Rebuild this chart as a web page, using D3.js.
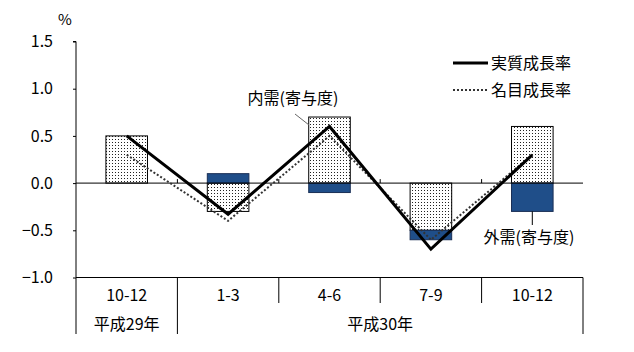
<!DOCTYPE html>
<html>
<head>
<meta charset="utf-8">
<script src="https://cdn.jsdelivr.net/npm/d3@7"></script>
<style>
  body { margin: 0; background: #fff; }
  text { font-family: "Noto Sans CJK JP", "DejaVu Sans", sans-serif; fill: #000; }
</style>
</head>
<body>
<div id="chart"></div>
<script>
// data
const quarters = ["10-12", "1-3", "4-6", "7-9", "10-12"];
const domestic = [0.5, -0.3, 0.7, -0.5, 0.6];   // 内需(寄与度)
const external = [0.0, 0.1, -0.1, -0.1, -0.3];  // 外需(寄与度)
const realGrowth = [0.5, -0.33, 0.6, -0.7, 0.3]; // 実質成長率
const nominalGrowth = [0.3, -0.4, 0.5, -0.6, 0.3]; // 名目成長率
const yTicks = [1.5, 1.0, 0.5, 0.0, -0.5, -1.0];
const years = [
  { label: "平成29年", from: 0, to: 0 },
  { label: "平成30年", from: 1, to: 4 },
];

const width = 634, height = 352;
const margin = { top: 41.5, left: 76, right: 51, bottom: 74.5 };

const svg = d3
  .select("#chart")
  .append("svg")
  .attr("width", width)
  .attr("height", height);

const defs = svg.append("defs");
const pat = defs
  .append("pattern")
  .attr("id", "dots")
  .attr("patternUnits", "userSpaceOnUse")
  .attr("width", 3)
  .attr("height", 3);
pat.append("rect").attr("width", 3).attr("height", 3).attr("fill", "#fff");
pat.append("rect").attr("x", 1).attr("y", 1).attr("width", 1).attr("height", 1).attr("fill", "#222");

const x = d3
  .scaleBand()
  .domain(d3.range(quarters.length))
  .range([margin.left, width - margin.right])
  .paddingInner(0);

const y = d3
  .scaleLinear()
  .domain([-1.0, 1.5])
  .range([height - margin.bottom, margin.top]);

const barW = x.bandwidth() * 0.41;
const cx = (i) => x(i) + x.bandwidth() / 2;

// y axis
const yAxis = svg
  .append("g")
  .attr("transform", `translate(${margin.left},0)`)
  .call(
    d3.axisLeft(y)
      .tickValues(yTicks)
      .tickSize(3)
      .tickPadding(20)
      .tickFormat(d3.format(".1f"))
  );
yAxis.select(".domain").attr("stroke", "#000").attr("d", `M-3,${y(1.5)}H0V${y(-1.0)}`);
yAxis.selectAll(".tick line").attr("stroke", "#000");
yAxis.selectAll(".tick text")
  .attr("font-size", 16)
  .style("font-family", "'Noto Sans CJK JP', sans-serif")
  .attr("x", -23);

svg.append("text")
  .attr("x", 65)
  .attr("y", 25)
  .attr("text-anchor", "middle")
  .attr("font-size", 15)
  .text("%");

// domestic bars (dotted)
svg.append("g")
  .selectAll("rect")
  .data(domestic)
  .join("rect")
  .attr("x", (d, i) => cx(i) - barW / 2)
  .attr("y", (d) => y(Math.max(0, d)))
  .attr("width", barW)
  .attr("height", (d) => Math.abs(y(d) - y(0)))
  .attr("fill", "url(#dots)")
  .attr("stroke", "#000")
  .attr("stroke-width", 1);

// external bars (blue), stacked on the domestic part when both are negative
svg.append("g")
  .selectAll("rect")
  .data(external)
  .join("rect")
  .attr("x", (d, i) => cx(i) - barW / 2)
  .attr("y", (d, i) => {
    let base = 0;
    if (d < 0 && domestic[i] < 0) base = domestic[i];
    if (d > 0 && domestic[i] > 0) base = domestic[i];
    return d >= 0 ? y(base + d) : y(base);
  })
  .attr("width", barW)
  .attr("height", (d) => Math.abs(y(d) - y(0)))
  .attr("fill", "#1f4e89")
  .attr("stroke", "#1a2f55")
  .attr("stroke-width", 1)
  .style("display", (d) => (d === 0 ? "none" : null));

// zero line with small category ticks
svg.append("line")
  .attr("x1", margin.left)
  .attr("x2", width - margin.right)
  .attr("y1", y(0))
  .attr("y2", y(0))
  .attr("stroke", "#000");
svg.append("g")
  .selectAll("line")
  .data(d3.range(1, quarters.length))
  .join("line")
  .attr("x1", (i) => x(i))
  .attr("x2", (i) => x(i))
  .attr("y1", y(0))
  .attr("y2", y(0) - 4)
  .attr("stroke", "#000");

// growth lines
const line = d3.line().x((d, i) => cx(i)).y((d) => y(d));
svg.append("path")
  .datum(nominalGrowth)
  .attr("d", line)
  .attr("fill", "none")
  .attr("stroke", "#333")
  .attr("stroke-width", 2)
  .attr("stroke-dasharray", "2,2");
svg.append("path")
  .datum(realGrowth)
  .attr("d", line)
  .attr("fill", "none")
  .attr("stroke", "#000")
  .attr("stroke-width", 3);

// bottom table
const bottom = y(-1.0);
const tbl = svg.append("g").attr("stroke", "#000").attr("fill", "none");
tbl.append("line")
  .attr("x1", margin.left).attr("x2", width - margin.right)
  .attr("y1", bottom).attr("y2", bottom);
d3.range(quarters.length + 1).forEach((i) => {
  const xx = i < quarters.length ? x(i) : width - margin.right;
  const full = i === 0 || i === 1 || i === quarters.length;
  tbl.append("line")
    .attr("x1", xx).attr("x2", xx)
    .attr("y1", bottom)
    .attr("y2", full ? 334 : 303);
});

svg.append("g")
  .selectAll("text")
  .data(quarters)
  .join("text")
  .attr("x", (d, i) => cx(i))
  .attr("y", 301)
  .attr("text-anchor", "middle")
  .attr("font-size", 16)
  .text((d) => d);

svg.append("g")
  .selectAll("text")
  .data(years)
  .join("text")
  .attr("x", (d) => (x(d.from) + x(d.to) + x.bandwidth()) / 2)
  .attr("y", 330)
  .attr("text-anchor", "middle")
  .attr("font-size", 16)
  .text((d) => d.label);

// annotations
svg.append("line")
  .attr("x1", 295).attr("y1", 114)
  .attr("x2", 309).attr("y2", 125)
  .attr("stroke", "#666");
svg.append("text")
  .attr("x", 293)
  .attr("y", 104)
  .attr("text-anchor", "middle")
  .attr("font-size", 16)
  .text("内需(寄与度)");

svg.append("line")
  .attr("x1", cx(4)).attr("y1", y(-0.3))
  .attr("x2", cx(4)).attr("y2", 225)
  .attr("stroke", "#000");
svg.append("text")
  .attr("x", 529)
  .attr("y", 243)
  .attr("text-anchor", "middle")
  .attr("font-size", 16)
  .text("外需(寄与度)");

// legend
const legend = svg.append("g").attr("transform", "translate(453,63)");
legend.append("line")
  .attr("x1", 0).attr("x2", 35).attr("y1", 0).attr("y2", 0)
  .attr("stroke", "#000").attr("stroke-width", 3);
legend.append("text")
  .attr("x", 38).attr("y", 6)
  .attr("font-size", 16)
  .text("実質成長率");
legend.append("line")
  .attr("x1", 0).attr("x2", 35).attr("y1", 27).attr("y2", 27)
  .attr("stroke", "#333").attr("stroke-width", 2)
  .attr("stroke-dasharray", "2,2");
legend.append("text")
  .attr("x", 38).attr("y", 33)
  .attr("font-size", 16)
  .text("名目成長率");
</script>
</body>
</html>
